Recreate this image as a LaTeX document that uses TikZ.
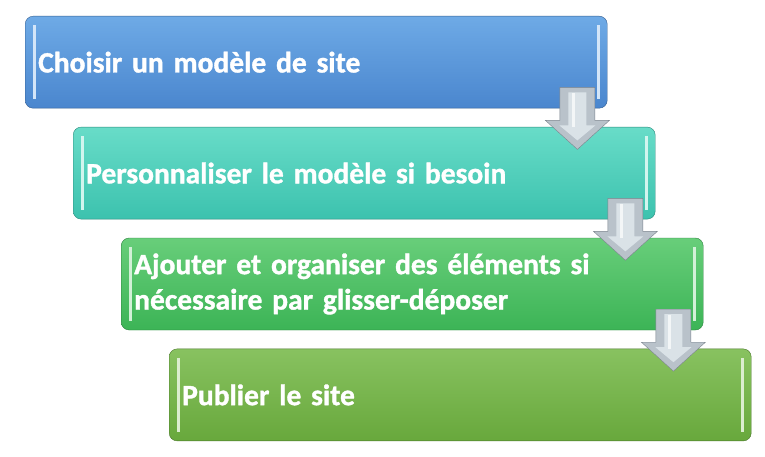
\documentclass[tikz,border=0pt]{standalone}
\usepackage{fontspec}
\setmainfont{Carlito}[BoldFeatures={FakeBold=1.2}]
\usetikzlibrary{
	positioning,
	calc,
}
\definecolor{blueTop}{HTML}{6EAAE6}
\definecolor{blueBot}{HTML}{4A86CE}
\definecolor{tealTop}{HTML}{68DCC8}
\definecolor{tealBot}{HTML}{3CC2AE}
\definecolor{greenTop}{HTML}{68CE7A}
\definecolor{greenBot}{HTML}{3CB456}
\definecolor{oliveTop}{HTML}{88C260}
\definecolor{oliveBot}{HTML}{68A83C}
\definecolor{arrowEdge}{HTML}{7A838C}
\definecolor{arrowSide}{HTML}{B9C2CA}
\definecolor{arrowFace}{HTML}{E6EEF2}
\newcommand{\stagefont}{\bfseries\fontsize{29.5}{35.4}\selectfont\spaceskip=4.6pt\relax}
\tikzset{stagebox/.style 2 args={
		% The shape:
		rectangle,rounded corners=2.8mm,
		% The size:
		minimum width=582pt,minimum height=92pt,
		text width=556pt,inner xsep=13pt,align=left,
		% The border:
		thin,draw=#2!70!black,
		% The filling:
		top color=#1, % lighter at the top...
		bottom color=#2, % and darker at the bottom
		% the glossy edges
		path picture={
			\draw [sharp corners,line width=3pt,#1!30!white]
			([xshift=9pt,yshift=-9pt]path picture bounding box.north west) --
			([xshift=9pt,yshift=9pt]path picture bounding box.south west);
			\draw [sharp corners,line width=3pt,#1!30!white]
			([xshift=-9pt,yshift=-9pt]path picture bounding box.north east) --
			([xshift=-9pt,yshift=9pt]path picture bounding box.south east);
		},
		% the text
		text=white,font=\stagefont,
}}
\tikzset{downarrow/.style={
		% The border:
		thin,draw=arrowEdge,line join=miter,
		% The filling:
		left color=arrowSide,
		middle color=white,
		right color=arrowSide,
}}
\tikzset{arrowbevel/.style={
		draw=none,fill=arrowFace,opacity=.75,
}}

\begin{document}
\begin{tikzpicture}
	\useasboundingbox (0,0) rectangle (765pt,-457pt);
	\node [stagebox={blueTop}{blueBot},anchor=north west] (b1) at (25pt,-16pt) {Choisir un modèle de site};
	\node [stagebox={tealTop}{tealBot},below=18.5pt of b1.south west,anchor=north west,xshift=48pt] (b2) {Personnaliser le modèle si besoin};
	\node [stagebox={greenTop}{greenBot},below=18.5pt of b2.south west,anchor=north west,xshift=48pt] (b3) {Ajouter et organiser des éléments si\\nécessaire par glisser-déposer};
	\node [stagebox={oliveTop}{oliveBot},below=18.5pt of b3.south west,anchor=north west,xshift=48pt] (b4) {Publier le site};
	% the arrows between the steps
	\foreach \i in {1,2,3} {
		\coordinate (t\i) at ([xshift=-30pt,yshift=21pt]b\i.south east);
		\draw [downarrow] (t\i) ++(-17.5pt,0) -- ++(35pt,0) -- ++(0,-33pt) -- ++(14.5pt,0)
		-- ++(-32pt,-29pt) -- ++(-32pt,29pt) -- ++(14.5pt,0) -- cycle;
		% the raised face
		\fill [arrowbevel] (t\i) ++(-9pt,-5pt) -- ++(18pt,0) -- ++(0,-33pt) -- ++(9pt,0)
		-- ++(-18pt,-15pt) -- ++(-18pt,15pt) -- ++(9pt,0) -- cycle;
		\draw [white,line width=3pt,opacity=.7] ([xshift=-4pt,yshift=-6pt]t\i) -- ++(0,-34pt);
	}
\end{tikzpicture}
\end{document}
